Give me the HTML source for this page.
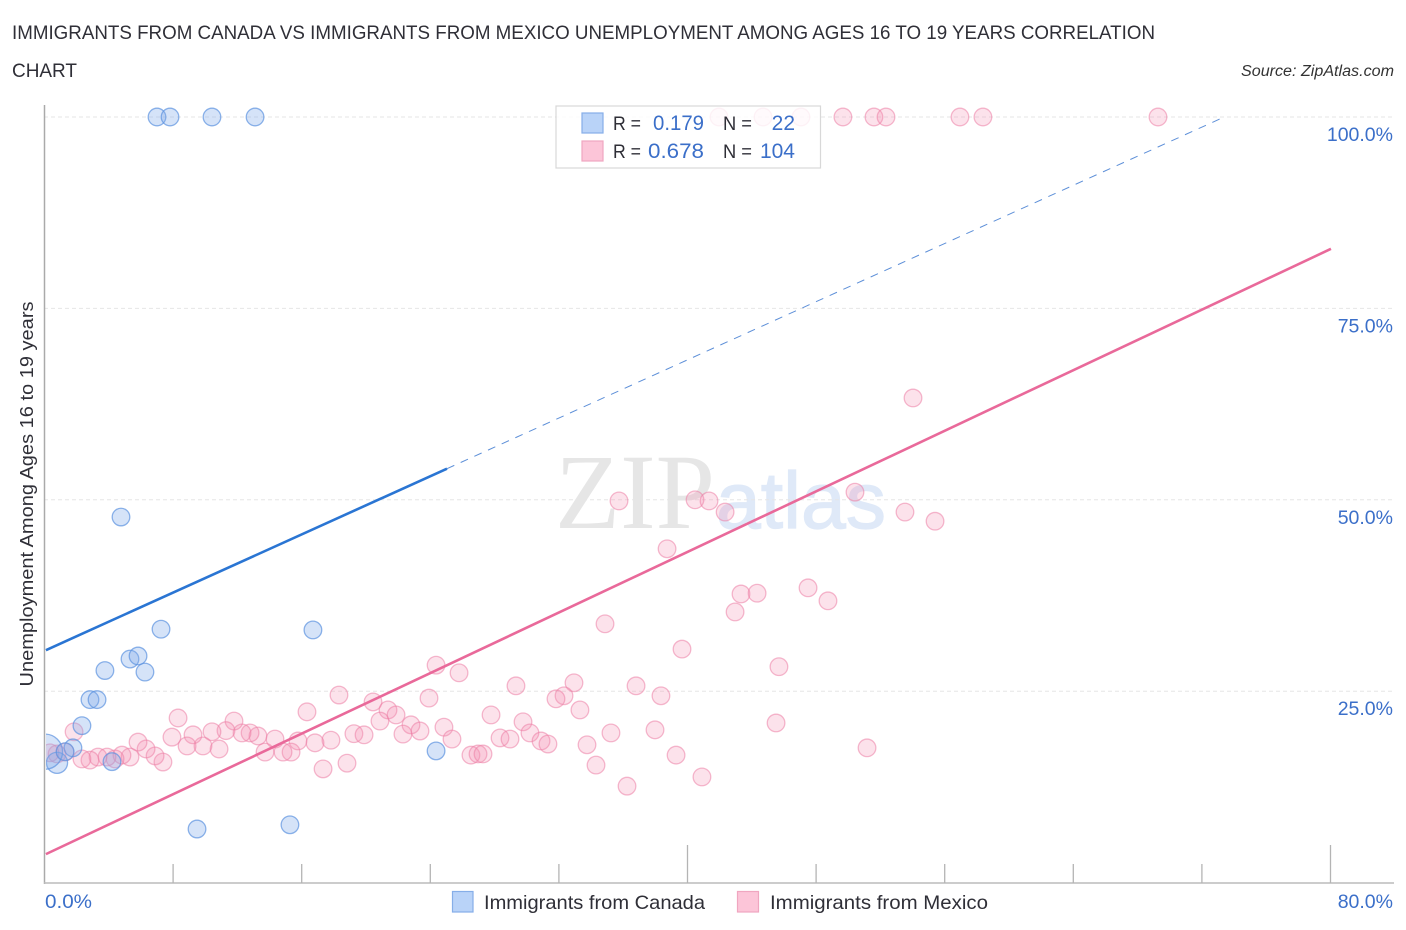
<!DOCTYPE html>
<html lang="en">
<head>
<meta charset="utf-8">
<title>Immigrants from Canada vs Immigrants from Mexico Unemployment Correlation Chart</title>
<style>
html,body{margin:0;padding:0;background:#fff;}
svg{display:block;font-family:"Liberation Sans",sans-serif;}
</style>
</head>
<body>
<svg id="chart" xmlns="http://www.w3.org/2000/svg" width="1406" height="930" viewBox="0 0 1406 930">
  <defs><clipPath id="plot-clip"><rect x="46" y="100" width="1350" height="783"/></clipPath></defs>
  <text x="12" y="39" font-size="19" fill="#2f2f37" textLength="1143" lengthAdjust="spacingAndGlyphs">IMMIGRANTS FROM CANADA VS IMMIGRANTS FROM MEXICO UNEMPLOYMENT AMONG AGES 16 TO 19 YEARS CORRELATION</text>
  <text x="12" y="77" font-size="19" fill="#2f2f37" textLength="65" lengthAdjust="spacingAndGlyphs">CHART</text>
  <text x="1241" y="76" font-size="15.5" font-style="italic" fill="#333" textLength="153" lengthAdjust="spacingAndGlyphs">Source: ZipAtlas.com</text>

  <g>
    <text x="555" y="528" font-family="'Liberation Serif',serif" font-size="107" fill="#e6e6e6" textLength="160" lengthAdjust="spacingAndGlyphs">ZIP</text>
    <text x="716" y="528" font-size="80" fill="#dfe9f8" stroke="#dfe9f8" stroke-width="1.2" textLength="170" lengthAdjust="spacingAndGlyphs">atlas</text>
  </g>

  <g id="grid"></g>
  <g id="pink-points" clip-path="url(#plot-clip)"></g>
  <g id="blue-points" clip-path="url(#plot-clip)"></g>
  <g id="trend-lines"></g>

  <g id="axes">
    <line x1="44.5" y1="105" x2="44.5" y2="884" stroke="#aaa" stroke-width="1.5"/>
    <line x1="44" y1="883" x2="1394" y2="883" stroke="#bbb" stroke-width="1.5"/>
  </g>
  <g id="y-labels"></g>
  <text x="45" y="908" font-size="19.5" fill="#3b6fc9" textLength="47" lengthAdjust="spacingAndGlyphs">0.0%</text>
  <text x="1393" y="908" font-size="19.5" fill="#3b6fc9" text-anchor="end">80.0%</text>
  <text transform="translate(33,494) rotate(-90)" font-size="18.5" fill="#2f2f37" text-anchor="middle" textLength="385" lengthAdjust="spacingAndGlyphs">Unemployment Among Ages 16 to 19 years</text>

  <g>
    <rect x="556" y="106" width="264.5" height="62" fill="#fff" fill-opacity="0.82" stroke="#d8d8d8" stroke-width="1.2"/>
    <rect x="582" y="113" width="21" height="20" fill="#b9d3f8" stroke="#86aee8" stroke-width="1.2"/>
    <rect x="582" y="141" width="21" height="20" fill="#fcc5d8" stroke="#f0a6c0" stroke-width="1.2"/>
    <text x="613" y="130" font-size="19.5" fill="#2f2f37" textLength="28" lengthAdjust="spacingAndGlyphs">R =</text>
    <text x="653" y="130" font-size="21" fill="#3b6fc9" textLength="51" lengthAdjust="spacingAndGlyphs">0.179</text>
    <text x="723" y="130" font-size="19.5" fill="#2f2f37" textLength="29" lengthAdjust="spacingAndGlyphs">N =</text>
    <text x="795" y="130" font-size="21" fill="#3b6fc9" text-anchor="end">22</text>
    <text x="613" y="158" font-size="19.5" fill="#2f2f37" textLength="28" lengthAdjust="spacingAndGlyphs">R =</text>
    <text x="648" y="158" font-size="21" fill="#3b6fc9" textLength="56" lengthAdjust="spacingAndGlyphs">0.678</text>
    <text x="723" y="158" font-size="19.5" fill="#2f2f37" textLength="29" lengthAdjust="spacingAndGlyphs">N =</text>
    <text x="795" y="158" font-size="21" fill="#3b6fc9" text-anchor="end">104</text>
  </g>

  <g>
    <rect x="452.500" y="891.500" width="20.500" height="20.500" fill="#b9d3f8" stroke="#86aee8" stroke-width="1.2"/>
    <text x="484" y="909" font-size="19.5" fill="#2f2f37" textLength="221" lengthAdjust="spacingAndGlyphs">Immigrants from Canada</text>
    <rect x="737.500" y="891.500" width="21" height="20.500" fill="#fcc5d8" stroke="#f0a6c0" stroke-width="1.2"/>
    <text x="770" y="909" font-size="19.5" fill="#2f2f37" textLength="218" lengthAdjust="spacingAndGlyphs">Immigrants from Mexico</text>
  </g>
</svg>
<script>
// ---- chart data (percent values) ----
const yTickValues = [25, 50, 75, 100];
const yTickLabels = ['25.0%', '50.0%', '75.0%', '100.0%'];
const xTickValues = [0, 8, 16, 24, 32, 40, 48, 56, 64, 72, 80];
const xMajorTicks = [40, 80];

const canadaX = [7.03, 7.84, 10.45, 13.13, 4.79, 7.28, 16.73, 5.35, 5.85, 3.79, 6.28, 2.86, 3.30, 2.36, 1.80, 24.39, 9.52, 15.30, 4.23, 0.81, 0.06, 1.31];
const canadaY = [100, 100, 100, 100, 47.75, 33.1, 33.0, 29.2, 29.6, 27.7, 27.5, 23.9, 23.9, 20.5, 17.6, 17.2, 7.0, 7.55, 15.8, 15.65, 17.1, 17.1];
const canadaSize = [1, 1, 1, 1, 1, 1, 1, 1, 1, 1, 1, 1, 1, 1, 1, 1, 1, 1, 1, 1.2, 2, 1];

const mexicoX = [41.99, 44.73, 47.09, 49.70, 51.63, 52.38, 56.98, 58.41, 69.30, 54.06, 50.45, 53.56, 55.43, 35.77, 40.50, 41.37, 42.37, 38.76, 43.36, 44.36, 42.99, 47.53, 48.77, 34.90, 39.69, 45.72, 24.39, 25.82, 29.36, 32.97, 36.83, 38.38, 32.35, 31.85, 23.95, 18.35, 20.47, 16.36, 33.34, 27.81, 29.80, 45.54, 38.01, 35.27, 21.40, 21.90, 20.90, 22.83, 23.39, 22.33, 24.88, 25.38, 28.37, 28.99, 30.23, 30.92, 31.35, 33.78, 51.20, 39.32, 40.93, 36.27, 34.34, 26.56, 27.0, 27.31, 17.36, 18.85, 19.28, 19.91, 17.85, 16.86, 15.80, 15.37, 14.87, 14.37, 13.75, 13.31, 12.82, 12.32, 11.82, 11.32, 10.89, 10.45, 9.89, 9.27, 8.90, 8.34, 7.96, 7.40, 6.91, 6.35, 5.85, 5.35, 4.85, 4.42, 3.92, 3.36, 2.86, 2.36, 1.87, 1.31, 0.81, 0.37];
const mexicoY = [100, 100, 100, 100, 100, 100, 100, 100, 100, 63.3, 51.0, 48.4, 47.2, 49.85, 50.0, 49.85, 48.4, 43.6, 37.7, 37.8, 35.35, 38.5, 36.8, 33.8, 30.5, 28.2, 28.4, 27.4, 25.7, 26.1, 25.7, 24.4, 24.4, 24.0, 24.1, 24.5, 23.6, 22.3, 22.55, 21.9, 21.0, 20.85, 19.95, 19.55, 22.55, 21.9, 21.1, 20.6, 19.8, 19.4, 20.3, 18.75, 18.9, 18.75, 19.55, 18.5, 18.1, 18.0, 17.6, 16.65, 13.8, 12.6, 15.35, 16.65, 16.8, 16.8, 14.85, 15.6, 19.45, 19.3, 18.6, 18.25, 18.5, 17.05, 17.05, 18.75, 17.05, 19.15, 19.55, 19.55, 21.1, 19.85, 17.45, 19.7, 17.85, 19.3, 17.85, 21.5, 19.0, 15.75, 16.55, 17.45, 18.35, 16.4, 16.65, 16.15, 16.4, 16.4, 16.0, 16.15, 19.7, 17.05, 16.8, 16.95];

const canadaTrendIntercept = 30.25;
const canadaTrendSlope = 0.95;
const canadaSolidEnd = 25.07;
const mexicoTrendIntercept = 3.6;
const mexicoTrendSlope = 0.989;
const mexicoTrendStart = 0.12;
const mexicoTrendEnd = 80.06;

// ---- axis functions ----
function xScale(v) { return 44 + v * 16.075; }
function yScale(v) { return 882.6 - v * 7.656; }

const NS = 'http://www.w3.org/2000/svg';
function make(tag, parentId, attrs) {
  const el = document.createElementNS(NS, tag);
  for (const k in attrs) el.setAttribute(k, attrs[k]);
  document.getElementById(parentId).appendChild(el);
  return el;
}

// gridlines + y labels
yTickValues.forEach(function (v, i) {
  const g = make('line', 'grid', { x1: 44, x2: 1394, y1: yScale(v), y2: yScale(v), stroke: '#e6e6e6', 'stroke-width': 1, 'stroke-dasharray': '4 3' });
  
  
  const t = make('text', 'y-labels', { x: 1393, y: yScale(v) + 24, 'font-size': 19.5, fill: '#3b6fc9', 'text-anchor': 'end' });
  t.textContent = yTickLabels[i];
  
  
});

// x ticks
xTickValues.slice(1).forEach(function (v) {
  const top = xMajorTicks.indexOf(v) >= 0 ? 845 : 864;
  const t = make('line', 'axes', { x1: xScale(v) + 0.5, x2: xScale(v) + 0.5, y1: top, y2: 883, stroke: '#b4b4b4', 'stroke-width': 1.3 });
  
  
});

// points
mexicoX.forEach(function (x, i) {
  const c = make('circle', 'pink-points', { cx: xScale(x), cy: yScale(mexicoY[i]), r: 8.8, fill: '#f48fb1', 'fill-opacity': 0.26, stroke: '#ec7fa5', 'stroke-opacity': 0.55, 'stroke-width': 1.3 });
  
  
});
canadaX.forEach(function (x, i) {
  const c = make('circle', 'blue-points', { cx: xScale(x), cy: yScale(canadaY[i]), r: 8.8 * canadaSize[i], fill: '#7fabea', 'fill-opacity': 0.33, stroke: '#5d93e0', 'stroke-opacity': 0.7, 'stroke-width': 1.3 });
  
  
});

// trend lines
const canadaDashEnd = (100 - canadaTrendIntercept) / canadaTrendSlope;
const blueDash = make('line', 'trend-lines', { x1: xScale(canadaSolidEnd), y1: yScale(canadaTrendIntercept + canadaTrendSlope * canadaSolidEnd), x2: xScale(canadaDashEnd), y2: yScale(100), stroke: '#5d8fd8', 'stroke-width': 1, 'stroke-dasharray': '8 7' });


const blueSolid = make('line', 'trend-lines', { x1: xScale(0.12), y1: yScale(canadaTrendIntercept + canadaTrendSlope * 0.12), x2: xScale(canadaSolidEnd), y2: yScale(canadaTrendIntercept + canadaTrendSlope * canadaSolidEnd), stroke: '#2a75d3', 'stroke-width': 2.6 });


const pinkSolid = make('line', 'trend-lines', { x1: xScale(mexicoTrendStart), y1: yScale(mexicoTrendIntercept + mexicoTrendSlope * mexicoTrendStart), x2: xScale(mexicoTrendEnd), y2: yScale(mexicoTrendIntercept + mexicoTrendSlope * mexicoTrendEnd), stroke: '#e9699a', 'stroke-width': 2.6 });


</script>
</body>
</html>
